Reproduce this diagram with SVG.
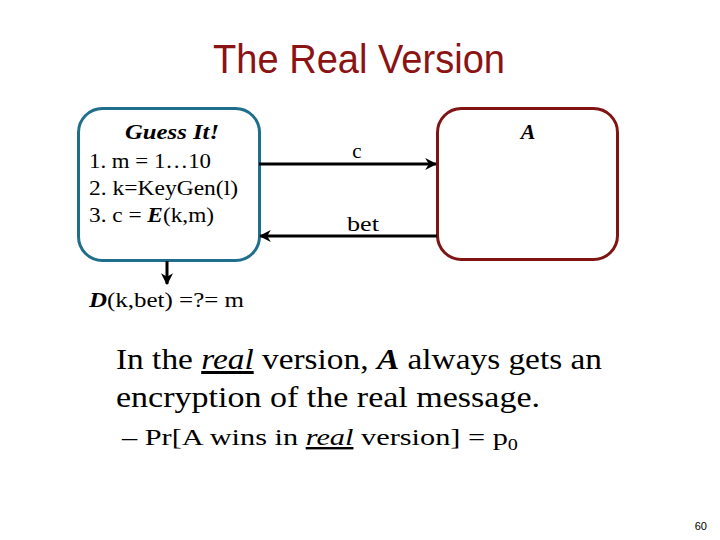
<svg xmlns="http://www.w3.org/2000/svg" width="720" height="540" viewBox="0 0 720 540">
<defs>
<marker id="ah" viewBox="0 0 10 10" refX="9" refY="5" markerWidth="4" markerHeight="4" orient="auto-start-reverse" markerUnits="strokeWidth">
<path d="M0,0 L10,5 L0,10 L3,5 Z" fill="#000"/>
</marker>
<style>
.serif{font-family:"Liberation Serif","DejaVu Serif",serif;fill:#000}
.box{fill:#fff;stroke-width:3}
.conn{stroke:#000;stroke-width:3;fill:none}
</style>
</defs>
<rect width="720" height="540" fill="#fff"/>
<text x="359" y="73" text-anchor="middle" font-family="'Liberation Sans',Arial,sans-serif" font-size="40" fill="#8b1313" textLength="292" lengthAdjust="spacingAndGlyphs">The Real Version</text>
<g id="guess">
<rect class="box" x="78.5" y="108.5" width="181" height="152" rx="24" stroke="#1f6e8c"/>
<text class="serif" x="172" y="139" text-anchor="middle" font-size="21" font-weight="bold" font-style="italic" textLength="94" lengthAdjust="spacingAndGlyphs">Guess It!</text>
<text class="serif" x="89" y="168" font-size="21" textLength="122" lengthAdjust="spacingAndGlyphs">1. m = 1…10</text>
<text class="serif" x="89" y="195" font-size="21" textLength="149" lengthAdjust="spacingAndGlyphs">2. k=KeyGen(l)</text>
<text class="serif" x="89" y="222" font-size="21" textLength="125" lengthAdjust="spacingAndGlyphs">3. c = <tspan font-weight="bold" font-style="italic">E</tspan>(k,m)</text>
</g>
<g id="adversary">
<rect class="box" x="437.5" y="108.5" width="180" height="151" rx="24" stroke="#7f1414"/>
<text class="serif" x="528" y="139" text-anchor="middle" font-size="22" font-weight="bold" font-style="italic">A</text>
</g>
<g id="connectors">
<line class="conn" x1="259" y1="164" x2="436" y2="164" marker-end="url(#ah)"/>
<line class="conn" x1="437" y1="236" x2="260" y2="236" marker-end="url(#ah)"/>
<line class="conn" x1="167" y1="261" x2="167" y2="284" marker-end="url(#ah)"/>
<text class="serif" x="357" y="158" text-anchor="middle" font-size="21">c</text>
<text class="serif" x="363" y="231" text-anchor="middle" font-size="21" textLength="32" lengthAdjust="spacingAndGlyphs">bet</text>
</g>
<text class="serif" x="89" y="307" font-size="21" textLength="155" lengthAdjust="spacingAndGlyphs"><tspan font-weight="bold" font-style="italic">D</tspan>(k,bet) =?= m</text>
<text class="serif" x="116" y="369" font-size="30" textLength="486" lengthAdjust="spacingAndGlyphs">In the <tspan font-style="italic" text-decoration="underline">real</tspan> version, <tspan font-weight="bold" font-style="italic">A</tspan> always gets an</text>
<text class="serif" x="116" y="407" font-size="30" textLength="424" lengthAdjust="spacingAndGlyphs">encryption of the real message.</text>
<text class="serif" x="122" y="445" font-size="24" textLength="396" lengthAdjust="spacingAndGlyphs">– Pr[A wins in <tspan font-style="italic" text-decoration="underline">real</tspan> version] = p<tspan font-size="16" dy="5">0</tspan></text>
<text x="707" y="530" text-anchor="end" font-family="'Liberation Sans',Arial,sans-serif" font-size="11" fill="#000">60</text>
</svg>
